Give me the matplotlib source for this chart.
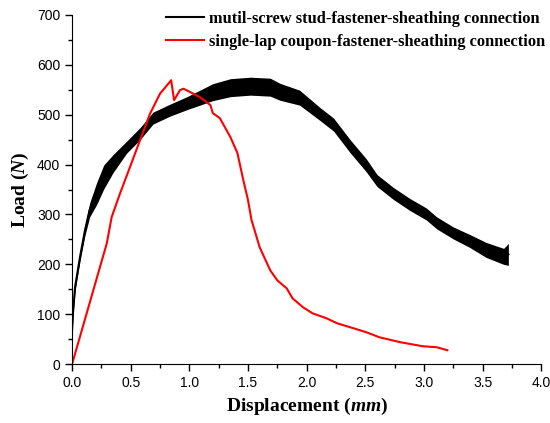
import numpy as np
import matplotlib.pyplot as plt

plt.rcParams['font.family'] = 'Liberation Sans'
plt.rcParams['mathtext.fontset'] = 'custom'
plt.rcParams['mathtext.it'] = 'Liberation Serif:italic:bold'
plt.rcParams['mathtext.rm'] = 'Liberation Serif:bold'

# stud test (noisy band: centre + half width)
stud_x = [0.0, 0.01, 0.026, 0.068, 0.11, 0.15, 0.21, 0.27, 0.35, 0.466, 0.58, 0.69,
          0.835, 0.98, 1.09, 1.2, 1.35, 1.52, 1.69, 1.77, 1.94, 2.11, 2.23, 2.37,
          2.51, 2.6, 2.74, 2.88, 3.02, 3.11, 3.25, 3.39, 3.53, 3.68, 3.72]
stud_y = [68, 110, 155, 215, 268, 309, 342, 375, 402, 435, 462, 493,
          509, 523, 534, 545, 554, 557, 555, 546, 534, 502, 480, 437,
          398, 368, 342, 320, 301, 283, 263, 247, 229, 216, 220]
stud_w = [6, 8, 8, 8, 10, 14, 22, 24, 18, 12, 12, 12,
          12, 13, 15, 17, 18, 18, 18, 17, 15, 13, 13, 13,
          13, 12, 12, 12, 12, 12, 12, 13, 15, 16, 22]

# single-lap coupon test
lap_x = [0.0, 0.296, 0.338, 0.409, 0.494, 0.58, 0.665, 0.75, 0.835, 0.845, 0.87, 0.92,
         0.95, 1.0, 1.09, 1.18, 1.2, 1.26, 1.35, 1.41, 1.46, 1.5, 1.53, 1.6, 1.69,
         1.75, 1.83, 1.88, 1.97, 2.05, 2.17, 2.26, 2.4, 2.51, 2.62, 2.8, 2.99, 3.11, 3.2]
lap_y = [0, 242, 295, 342, 395, 449, 502, 542, 566, 569, 529, 549,
         552, 546, 535, 519, 503, 493, 455, 423, 369, 329, 289, 234, 188,
         168, 152, 132, 114, 102, 92, 82, 72, 64, 54, 44, 36, 34, 28]

stud_x = np.array(stud_x)
stud_y = np.array(stud_y)
stud_w = np.array(stud_w)

fig = plt.figure(figsize=(5.5, 4.23), dpi=100)
ax = fig.add_axes([0.131, 0.139, 0.853, 0.826])

ax.fill_between(stud_x, stud_y - stud_w, stud_y + stud_w, color='black', lw=0)
ax.plot(stud_x, stud_y, color='black', lw=1.5,
        label='mutil-screw stud-fastener-sheathing connection')
ax.plot(lap_x, lap_y, color='red', lw=1.5,
        label='single-lap coupon-fastener-sheathing connection')

ax.set_xlim(0, 4.0)
ax.set_ylim(0, 700)
ax.set_xticks(np.arange(0, 4.01, 0.5))
ax.set_xticks(np.arange(0, 4.01, 0.25), minor=True)
ax.set_yticks(np.arange(0, 701, 100))
ax.set_yticks(np.arange(0, 701, 50), minor=True)
ax.tick_params(which='major', direction='out', length=5, width=1, labelsize=10)
ax.tick_params(which='minor', direction='out', length=3, width=1)
ax.spines['top'].set_visible(False)
ax.spines['right'].set_visible(False)

ax.set_xlabel(r'Displacement ($mm$)', family='Liberation Serif', weight='bold', fontsize=14)
ax.set_ylabel(r'Load ($N$)', family='Liberation Serif', weight='bold', fontsize=14)

ax.legend(loc='upper right', bbox_to_anchor=(1.04, 1.054), frameon=False,
          prop={'family': 'Liberation Serif', 'weight': 'bold', 'size': 11.8},
          handlelength=2.3, handletextpad=0.3, labelspacing=0.45)

plt.savefig('out.png')
